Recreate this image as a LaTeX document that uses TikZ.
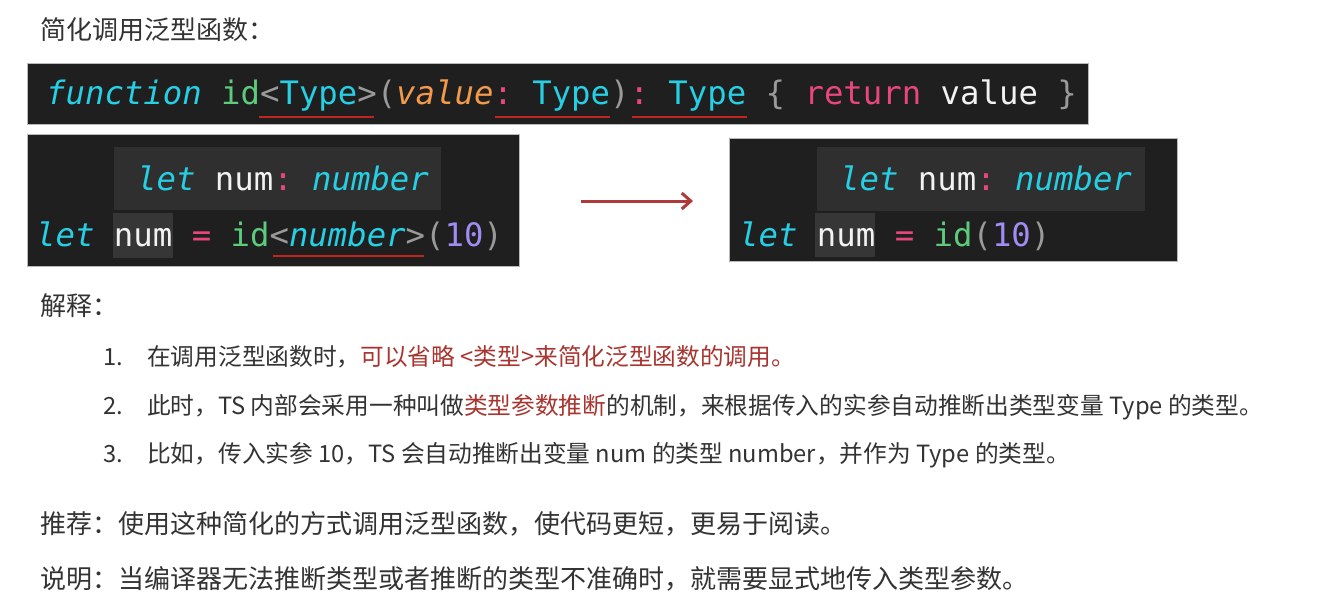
\documentclass[tikz,border=0pt]{standalone}
\usepackage{fontspec}
\usetikzlibrary{arrows.meta}
\setmainfont{Noto Sans CJK SC}
\newfontfamily\codefont{DejaVu Sans Mono}
\definecolor{codebg}{HTML}{1F1F1F}
\definecolor{tipbg}{HTML}{2F2F2F}
\definecolor{hlbg}{HTML}{363636}
\definecolor{cy}{HTML}{26CFE3}
\definecolor{gn}{HTML}{5CCB7C}
\definecolor{gy}{HTML}{9A9A9A}
\definecolor{org}{HTML}{F2994A}
\definecolor{pk}{HTML}{E8467C}
\definecolor{wh}{HTML}{F2F2F2}
\definecolor{pu}{HTML}{A08CF2}
\definecolor{ulred}{HTML}{C0261F}
\definecolor{txt}{HTML}{333333}
\definecolor{txtred}{HTML}{A8342F}
\definecolor{arrred}{HTML}{B03A3A}
\tikzset{
  codebox/.style={fill=codebg, draw=gray!55, line width=0.5pt, anchor=north west, inner sep=0pt},
  tipbox/.style={fill=tipbg, anchor=north west, inner sep=0pt},
  hlbox/.style={fill=hlbg, anchor=north west, inner sep=0pt},
  codeline/.style={anchor=base west, inner sep=0pt, font=\codefont\fontsize{32.3}{38}\selectfont\frenchspacing},
  uline/.style={draw=ulred, line width=2.6pt},
  bodytext/.style={anchor=base west, inner sep=0pt, text=txt, font=\fontsize{26}{30}\selectfont},
  itemtext/.style={anchor=base west, inner sep=0pt, text=txt, font=\fontsize{23.7}{28}\selectfont},
}
\begin{document}
\begin{tikzpicture}[x=1pt,y=-1pt]
\useasboundingbox[fill=white] (0,0) rectangle (1340,610);

% title
\node[bodytext] (title) at (40,40) {简化调用泛型函数：};

% code box 1
\node[codebox, minimum width=1061pt, minimum height=61pt] (box1) at (27,63) {};
\node[codeline] (line1) at (46,104) {{\color{cy}\itshape function} {\color{gn}id}{\color{gy}<}{\color{cy}Type}{\color{gy}>(}{\color{org}\itshape value}{\color{pk}:} {\color{cy}Type}{\color{gy})}{\color{pk}:} {\color{cy}Type} {\color{gy}\{} {\color{pk}return} {\color{wh}value} {\color{gy}\}}};
\draw[uline] (259,117) -- (374,117);
\draw[uline] (495,117) -- (610,117);
\draw[uline] (632,117) -- (747,117);

% code box 2 (left)
\node[codebox, minimum width=492pt, minimum height=132pt] (box2) at (27,134) {};
\node[tipbox, minimum width=327pt, minimum height=63pt] (tip2) at (114,147) {};
\node[hlbox, minimum width=60pt, minimum height=45pt] (hl2) at (113,213) {};
\node[codeline] (tipline2) at (137,190) {{\color{cy}\itshape let} {\color{wh}num}{\color{pk}:} {\color{cy}\itshape number}};
\node[codeline] (line2) at (36,246) {{\color{cy}\itshape let} {\color{wh}num} {\color{pk}=} {\color{gn}id}{\color{gy}<}{\color{cy}\itshape number}{\color{gy}>(}{\color{pu}10}{\color{gy})}};
\draw[uline] (273,256) -- (424,256);

% code box 3 (right)
\node[codebox, minimum width=448pt, minimum height=123pt] (box3) at (729,138) {};
\node[tipbox, minimum width=328pt, minimum height=64pt] (tip3) at (817,147) {};
\node[hlbox, minimum width=60pt, minimum height=44pt] (hl3) at (815,213) {};
\node[codeline] (tipline3) at (840,190) {{\color{cy}\itshape let} {\color{wh}num}{\color{pk}:} {\color{cy}\itshape number}};
\node[codeline] (line3) at (739,246) {{\color{cy}\itshape let} {\color{wh}num} {\color{pk}=} {\color{gn}id}{\color{gy}(}{\color{pu}10}{\color{gy})}};

% arrow
\coordinate (arrS) at (581,201);
\coordinate (arrE) at (693,201);
\draw[arrred, line width=3pt, -{Straight Barb[length=9pt,width=16pt,line width=3pt]}] (arrS) -- (arrE);

% explanation
\node[bodytext] (expl) at (40,315) {解释：};
\node[itemtext] (n1) at (103,365) {1.};
\node[itemtext] (i1) at (147,365) {在调用泛型函数时，\textcolor{txtred}{可以省略 <类型>来简化泛型函数的调用。}};
\node[itemtext] (n2) at (103,414) {2.};
\node[itemtext] (i2) at (147,414) {此时，TS 内部会采用一种叫做\textcolor{txtred}{类型参数推断}的机制，来根据传入的实参自动推断出类型变量 Type 的类型。};
\node[itemtext] (n3) at (103,462) {3.};
\node[itemtext] (i3) at (147,462) {比如，传入实参 10，TS 会自动推断出变量 num 的类型 number，并作为 Type 的类型。};

\node[bodytext] (rec) at (40,533) {推荐：使用这种简化的方式调用泛型函数，使代码更短，更易于阅读。};
\node[bodytext] (note) at (40,588) {说明：当编译器无法推断类型或者推断的类型不准确时，就需要显式地传入类型参数。};
\end{tikzpicture}
\end{document}
